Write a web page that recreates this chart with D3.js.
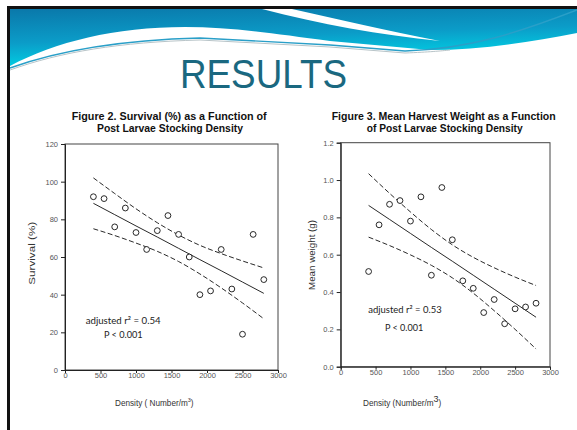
<!DOCTYPE html>
<html>
<head>
<meta charset="utf-8">
<script src="https://cdn.jsdelivr.net/npm/d3@7"></script>
<style>
  body { margin: 0; background: #fff; }
  svg { display: block; }
  .tick text { font-family: "Liberation Sans", Arial, sans-serif; font-size: 7.5px; fill: #555; }
  .tick line, .domain { stroke: #222; }
  .ttl { font-family: "Liberation Sans", Arial, sans-serif; font-size: 10.8px; font-weight: bold; fill: #111; }
  .axisText { font-family: "Liberation Sans", Arial, sans-serif; font-size: 8.2px; fill: #333; }
  .note { font-family: Lato, "Open Sans", sans-serif; font-size: 9.5px; fill: #222; }
</style>
</head>
<body>
<div id="slide"></div>
<script>
// Data
var density = [400, 550, 700, 850, 1000, 1150, 1300, 1450, 1600, 1750, 1900, 2050, 2200, 2350, 2500, 2650, 2800];
var survival = [92, 91, 76, 86, 73, 64, 74, 82, 72, 60, 40, 42, 64, 43, 19, 72, 48];
var weight = [0.51, 0.76, 0.87, 0.89, 0.78, 0.91, 0.49, 0.96, 0.68, 0.46, 0.42, 0.29, 0.36, 0.23, 0.31, 0.32, 0.34];

// regression line and 95% band, read at these densities
var bandX = [400, 700, 1000, 1300, 1600, 1900, 2200, 2500, 2800];
var survFit = [88.5, 82.5, 76.5, 70.6, 64.6, 58.6, 52.7, 46.7, 40.7];
var survUpper = [102, 93.7, 85.6, 78.2, 71.7, 66.2, 61.8, 57.9, 54.2];
var survLower = [75, 71.4, 67.4, 63.0, 57.6, 51.0, 43.6, 35.6, 27.2];
var wtFit = [0.864, 0.789, 0.714, 0.639, 0.565, 0.490, 0.415, 0.340, 0.265];
var wtUpper = [1.034, 0.929, 0.829, 0.735, 0.653, 0.586, 0.530, 0.480, 0.435];
var wtLower = [0.694, 0.649, 0.599, 0.543, 0.476, 0.394, 0.300, 0.200, 0.095];

var xTicks = [0, 500, 1000, 1500, 2000, 2500, 3000];
var survTicks = [0, 20, 40, 60, 80, 100, 120];
var wtTicks = [0, 0.2, 0.4, 0.6, 0.8, 1.0, 1.2];

var svgWidth = 577;
var svgHeight = 430;

var svg = d3.select("#slide")
  .append("svg")
  .attr("width", svgWidth)
  .attr("height", svgHeight);

// Header swoosh
var defs = svg.append("defs");
var grad = defs.append("linearGradient")
  .attr("id", "hdr").attr("x1", 0).attr("y1", 0).attr("x2", 0.3).attr("y2", 1);
grad.append("stop").attr("offset", "0%").attr("stop-color", "#0a78aa");
grad.append("stop").attr("offset", "55%").attr("stop-color", "#0b9cc8");
grad.append("stop").attr("offset", "100%").attr("stop-color", "#00d4e6");

svg.append("path")
  .attr("d", "M10,9 L577,9 L577,33 C530,42 480,50 430,50 L330,41 C270,33 230,27 185,27 C115,27 55,42 10,66 Z")
  .attr("fill", "url(#hdr)");
svg.append("path")
  .attr("d", "M262,9 L292,9 C340,20 385,30 440,41 C380,35 320,24 262,9 Z")
  .attr("fill", "#fff");
svg.append("path")
  .attr("d", "M10,68 C60,50 120,40 200,38 L330,45 L405,51 C470,49 520,32 577,10")
  .attr("fill", "none").attr("stroke", "#2a9fc8").attr("stroke-width", 1.4);
svg.append("path")
  .attr("d", "M10,70 C60,52 120,42 200,40 L330,47 L405,53 C430,52 440,51 450,50")
  .attr("fill", "none").attr("stroke", "#b8c4c8").attr("stroke-width", 1);

// slide frame
svg.append("path")
  .attr("d", "M8.5,430 L8.5,7.5 L577,7.5")
  .attr("fill", "none").attr("stroke", "#111").attr("stroke-width", 3);

svg.append("text")
  .attr("x", 180).attr("y", 88)
  .attr("textLength", 167).attr("lengthAdjust", "spacingAndGlyphs")
  .style("font-family", "'Liberation Sans', Arial, sans-serif")
  .style("font-size", "40px")
  .style("fill", "#1a6880")
  .text("RESULTS");

function fitText(sel, len) {
  return sel.attr("textLength", len).attr("lengthAdjust", "spacingAndGlyphs");
}

function drawChart(opt) {
  var x = d3.scaleLinear().domain([0, 3000]).range([opt.left, opt.right]);
  var y = d3.scaleLinear().domain([opt.yTicks[0], opt.yTicks[opt.yTicks.length - 1]]).range([opt.bottom, opt.top]);
  var g = svg.append("g");

  // frame
  g.append("rect")
    .attr("x", opt.left).attr("y", opt.top)
    .attr("width", opt.right - opt.left).attr("height", opt.bottom - opt.top)
    .attr("fill", "none").attr("stroke", "#444").attr("stroke-width", 1);

  var bottomAxis = d3.axisBottom(x).tickValues(xTicks).tickSize(3).tickPadding(0).tickFormat(d3.format("d"));
  var leftAxis = d3.axisLeft(y).tickValues(opt.yTicks).tickSize(4).tickPadding(3).tickFormat(opt.fmt);

  g.append("g").attr("transform", `translate(0, ${opt.bottom})`).call(bottomAxis);
  g.append("g").attr("transform", `translate(${opt.left}, 0)`).call(leftAxis);
  g.selectAll(".domain").attr("stroke", "#222");

  var line = d3.line().x((d, i) => x(bandX[i])).y(d => y(d)).curve(d3.curveMonotoneX);
  g.append("path").attr("d", line(opt.fit)).attr("fill", "none").attr("stroke", "#111").attr("stroke-width", 0.9);
  [opt.upper, opt.lower].forEach(function(b) {
    g.append("path").attr("d", line(b)).attr("fill", "none").attr("stroke", "#111")
      .attr("stroke-width", 0.9).attr("stroke-dasharray", "5,2.5");
  });

  g.selectAll(".pt")
    .data(opt.values)
    .enter()
    .append("circle")
    .attr("cx", (d, i) => x(density[i]))
    .attr("cy", d => y(d))
    .attr("r", 2.9)
    .attr("fill", "#fff")
    .attr("stroke", "#111")
    .attr("stroke-width", 0.9);

  // titles
  opt.title.forEach(function(t, i) {
    fitText(g.append("text").attr("class", "ttl")
      .attr("x", opt.titleX[i]).attr("y", 120 + i * 12.3)
      .text(t), opt.titleW[i]);
  });

  fitText(g.append("text").attr("class", "axisText")
    .attr("transform", `translate(${opt.yLabelX}, ${opt.yLabelY}) rotate(-90)`)
    .attr("text-anchor", "middle")
    .text(opt.yLabel), opt.yLabelW);

  var xl = g.append("text").attr("class", "axisText")
    .attr("x", opt.xLabelX).attr("y", 406);
  xl.append("tspan").text(opt.xLabel[0]);
  xl.append("tspan").attr("dy", opt.supDy).style("font-size", opt.supSize).text("3");
  xl.append("tspan").attr("dy", -opt.supDy).text(")");

  opt.notes.forEach(function(n) {
    fitText(g.append("text").attr("class", "note")
      .attr("x", n.x).attr("y", n.y).text(n.text), n.w);
  });
}

drawChart({
  left: 65, right: 278, top: 144, bottom: 370,
  yTicks: survTicks, fmt: d3.format("d"),
  values: survival, fit: survFit, upper: survUpper, lower: survLower,
  title: ["Figure 2.  Survival (%) as a Function of", "Post Larvae Stocking Density"],
  titleX: [71.7, 97], titleW: [195, 146],
  yLabel: "Survival (%)", yLabelX: 34.5, yLabelY: 253.3, yLabelW: 63,
  xLabel: ["Density ( Number/m"], xLabelX: 115, supDy: -4, supSize: "5.5px",
  notes: [{ x: 85.7, y: 323.5, w: 75, text: "adjusted r\u00b2 = 0.54" }, { x: 104, y: 337.5, w: 38.7, text: "P < 0.001" }]
});

drawChart({
  left: 340.7, right: 550, top: 142.7, bottom: 366.7,
  yTicks: wtTicks, fmt: d3.format(".1f"),
  values: weight, fit: wtFit, upper: wtUpper, lower: wtLower,
  title: ["Figure 3.  Mean Harvest Weight as a Function", "of Post Larvae Stocking Density"],
  titleX: [331.7, 366.7], titleW: [224, 156],
  yLabel: "Mean weight (g)", yLabelX: 314.5, yLabelY: 255, yLabelW: 70,
  xLabel: ["Density (Number/m"], xLabelX: 363, supDy: -4.5, supSize: "9px",
  notes: [{ x: 368.3, y: 313, w: 73.4, text: "adjusted r\u00b2 = 0.53" }, { x: 385, y: 330.5, w: 38.3, text: "P < 0.001" }]
});
</script>
</body>
</html>
